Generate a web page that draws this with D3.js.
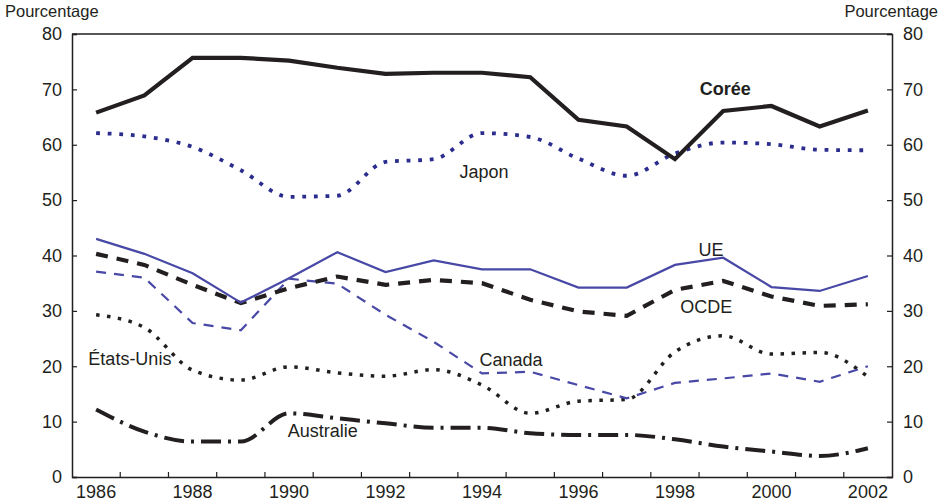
<!DOCTYPE html>
<html>
<head>
<meta charset="utf-8">
<script src="https://cdn.jsdelivr.net/npm/d3@7"></script>
<style>
  html, body { margin: 0; padding: 0; background: #fff; }
  svg { display: block; font-family: "Liberation Sans", Arial, Helvetica, sans-serif; }
</style>
</head>
<body>
<svg id="chart" width="944" height="504"></svg>
<script>
// Années et séries (en pourcentage)
const years = [1986, 1987, 1988, 1989, 1990, 1991, 1992, 1993, 1994, 1995, 1996, 1997, 1998, 1999, 2000, 2001, 2002];
const yTicks = [0, 10, 20, 30, 40, 50, 60, 70, 80];
const xTickLabels = [1986, 1988, 1990, 1992, 1994, 1996, 1998, 2000, 2002];

const coree      = [65.8, 68.9, 75.7, 75.7, 75.2, 73.9, 72.8, 73.0, 73.0, 72.2, 64.5, 63.3, 57.4, 66.1, 67.0, 63.3, 66.2];
const japon      = [62.1, 61.5, 59.6, 55.4, 50.6, 50.8, 56.9, 57.4, 62.1, 61.4, 57.5, 54.4, 58.4, 60.4, 60.1, 59.1, 59.0];
const ue         = [43.0, 40.3, 36.8, 31.5, 35.9, 40.6, 37.0, 39.1, 37.5, 37.5, 34.2, 34.2, 38.3, 39.6, 34.3, 33.6, 36.3];
const ocde       = [40.3, 38.3, 34.7, 31.4, 34.1, 36.2, 34.7, 35.6, 35.0, 32.0, 29.9, 29.1, 33.8, 35.4, 32.6, 30.9, 31.2];
const canada     = [37.1, 36.0, 27.8, 26.5, 35.8, 34.9, 29.3, 24.4, 18.7, 19.0, 16.6, 14.2, 17.0, 17.8, 18.7, 17.2, 20.0];
const etatsUnis  = [29.3, 27.0, 19.3, 17.5, 19.9, 18.8, 18.2, 19.4, 16.6, 11.5, 13.7, 14.0, 22.6, 25.5, 22.2, 22.5, 18.1];
const australie  = [12.2, 8.2, 6.4, 6.4, 11.5, 10.6, 9.7, 8.9, 8.9, 7.9, 7.6, 7.6, 6.8, 5.5, 4.6, 3.8, 5.2];

const svg = d3.select("#chart");
const plotLeft = 72, plotRight = 892, plotTop = 34, plotBottom = 477;
const ink = "#231f20";
const blue = "#4848a6";
const navy = "#2b2d8e";

const x = d3.scaleBand().domain(years).range([plotLeft, plotRight]).padding(0);
const y = d3.scaleLinear().domain([0, 80]).range([plotBottom, plotTop]);
const cx = yr => x(yr) + x.bandwidth() / 2;

// Cadre : bord supérieur
svg.append("line")
  .attr("x1", plotLeft).attr("x2", plotRight).attr("y1", plotTop).attr("y2", plotTop)
  .attr("stroke", ink).attr("stroke-width", 1.3);

// Axe des x : graduations aux limites entre années, libellés centrés tous les deux ans
const xAxis = d3.axisBottom(x)
  .tickValues(xTickLabels)
  .tickSize(0)
  .tickPadding(8);
const gx = svg.append("g").attr("transform", `translate(0,${plotBottom})`).call(xAxis);
gx.select(".domain").attr("stroke", ink).attr("stroke-width", 1.5);
gx.selectAll("text").attr("font-size", 18).attr("fill", ink).attr("font-family", null);
svg.append("g").selectAll("line")
  .data(years.slice(1))
  .join("line")
  .attr("x1", d => x(d)).attr("x2", d => x(d))
  .attr("y1", plotBottom).attr("y2", plotBottom - 5)
  .attr("stroke", ink).attr("stroke-width", 1.2);

// Axes des y gauche et droit, graduations vers l'intérieur
const yLeft = d3.axisLeft(y).tickValues(yTicks).tickSize(-5).tickPadding(10);
const gl = svg.append("g").attr("transform", `translate(${plotLeft},0)`).call(yLeft);
const yRight = d3.axisRight(y).tickValues(yTicks).tickSize(-5).tickPadding(11);
const gr = svg.append("g").attr("transform", `translate(${plotRight},0)`).call(yRight);
[gl, gr].forEach(g => {
  g.select(".domain").attr("stroke", ink).attr("stroke-width", 1.5);
  g.selectAll(".tick line").attr("stroke", ink).attr("stroke-width", 1.2);
  g.selectAll("text").attr("font-size", 18).attr("fill", ink).attr("font-family", null);
});

// Titres des axes
svg.append("text").attr("x", 5).attr("y", 17).attr("font-size", 16.5).attr("fill", ink).text("Pourcentage");
svg.append("text").attr("x", 938).attr("y", 17).attr("text-anchor", "end").attr("font-size", 16.5).attr("fill", ink).text("Pourcentage");

// Séries
const series = [
  { values: australie, color: ink,  width: 4,   dash: "20,7,3,7", curve: d3.curveMonotoneX },
  { values: etatsUnis, color: ink,  width: 3.5, dash: "3.5,7.5",  curve: d3.curveMonotoneX },
  { values: canada,    color: blue, width: 2.2, dash: "10,8",     curve: d3.curveLinear },
  { values: ocde,      color: ink,  width: 4.2, dash: "12,9",     curve: d3.curveLinear },
  { values: ue,        color: blue, width: 2.2, dash: null,       curve: d3.curveLinear },
  { values: japon,     color: navy, width: 3.8, dash: "3.8,7.8",  curve: d3.curveMonotoneX },
  { values: coree,     color: ink,  width: 4.2, dash: null,       curve: d3.curveLinear }
];

series.forEach(s => {
  const line = d3.line()
    .x((d, i) => cx(years[i]))
    .y(d => y(d))
    .curve(s.curve);
  svg.append("path")
    .datum(s.values)
    .attr("d", line)
    .attr("fill", "none")
    .attr("stroke", s.color)
    .attr("stroke-width", s.width)
    .attr("stroke-dasharray", s.dash)
    .attr("stroke-linejoin", "miter");
});

// Étiquettes des séries
const bw = x.bandwidth();
const labels = [
  { text: "Corée",      xPos: cx(1999) + 2,          yVal: 69.0, bold: true },
  { text: "Japon",      xPos: cx(1994) + 2,          yVal: 54.0 },
  { text: "UE",         xPos: cx(1998) + bw * 0.75,  yVal: 39.9 },
  { text: "OCDE",       xPos: cx(1998) + bw * 0.65,  yVal: 29.6 },
  { text: "Canada",     xPos: cx(1994) + bw * 0.6,   yVal: 20.0 },
  { text: "États-Unis", xPos: cx(1986) + bw * 0.7,   yVal: 20.2 },
  { text: "Australie",  xPos: cx(1990) + bw * 0.7,   yVal: 7.2 }
];
svg.append("g").selectAll("text")
  .data(labels)
  .join("text")
  .attr("x", d => d.xPos)
  .attr("y", d => y(d.yVal))
  .attr("text-anchor", "middle")
  .attr("font-size", 18)
  .attr("font-weight", d => d.bold ? "bold" : "normal")
  .attr("fill", ink)
  .text(d => d.text);
</script>
</body>
</html>
